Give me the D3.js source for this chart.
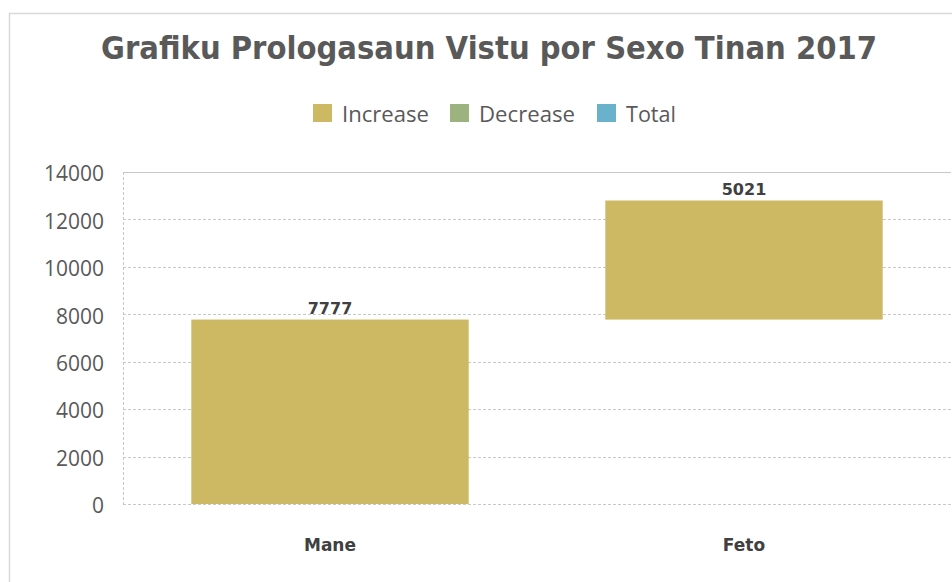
<!DOCTYPE html>
<html lang="en">
<head>
<meta charset="UTF-8">
<title>Grafiku Prologasaun Vistu por Sexo Tinan 2017</title>
<script src="https://cdnjs.cloudflare.com/ajax/libs/d3/7.8.5/d3.min.js"></script>
<style>
  body { margin: 0; background: #fff; }
  svg { display: block; }
</style>
</head>
<body>
<div id="chart"></div>
<script>
// data
const categories = ["Mane", "Feto"];
const values = [7777, 5021];
const legendNames = ["Increase", "Decrease", "Total"];
const legendColors = ["#cdb864", "#9cb27f", "#6ab1cb"];
const yTicks = [0, 2000, 4000, 6000, 8000, 10000, 12000, 14000];

const width = 952, height = 582;
const margin = {top: 172, right: 1, bottom: 78, left: 123};

const svg = d3.select("#chart").append("svg")
  .attr("width", width).attr("height", height);

// outer frame
svg.append("rect")
  .attr("x", 9.5).attr("y", 13.5)
  .attr("width", 1000).attr("height", 1000)
  .attr("fill", "none").attr("stroke", "#d9d9d9").attr("stroke-width", 1.5);

// title
svg.append("text")
  .attr("x", 489).attr("y", 59)
  .attr("text-anchor", "middle")
  .attr("textLength", 776).attr("lengthAdjust", "spacingAndGlyphs")
  .style("font-family", "'DejaVu Sans', sans-serif")
  .style("font-weight", "bold")
  .style("font-size", "32px")
  .style("fill", "#595959")
  .text("Grafiku Prologasaun Vistu por Sexo Tinan 2017");

// legend
const legendX = [313, 450, 597];
const legendW = [87, 96, 50];
const lg = svg.append("g");
legendNames.forEach((n, i) => {
  lg.append("rect")
    .attr("x", legendX[i]).attr("y", 104)
    .attr("width", 19).attr("height", 18)
    .attr("fill", legendColors[i]);
  lg.append("text")
    .attr("x", legendX[i] + 29).attr("y", 122)
    .attr("textLength", legendW[i]).attr("lengthAdjust", "spacingAndGlyphs")
    .style("font-family", "'Open Sans', sans-serif")
    .style("font-size", "21px")
    .style("fill", "#595959")
    .text(n);
});

const x = d3.scaleBand()
  .domain(categories)
  .range([margin.left, width - margin.right])
  .paddingInner(0.33).paddingOuter(0.165);

const y = d3.scaleLinear()
  .domain([0, 14000])
  .range([height - margin.bottom, margin.top]);

// gridlines
svg.append("g")
  .selectAll("line")
  .data(yTicks)
  .join("line")
  .attr("x1", margin.left).attr("x2", width - margin.right)
  .attr("y1", d => Math.round(y(d)) + 0.5).attr("y2", d => Math.round(y(d)) + 0.5)
  .attr("stroke", "#c8c8c8")
  .attr("stroke-dasharray", d => d === 14000 ? null : "3,2");

// left axis line
svg.append("line")
  .attr("x1", margin.left + 0.5).attr("x2", margin.left + 0.5)
  .attr("y1", y(14000)).attr("y2", y(0))
  .attr("stroke", "#c8c8c8").attr("stroke-dasharray", "3,2");

// y tick labels
const yAxis = d3.axisLeft(y).tickValues(yTicks).tickSize(0).tickPadding(19)
  .tickFormat(d3.format("d"));
svg.append("g")
  .attr("transform", `translate(${margin.left},2)`)
  .call(yAxis)
  .call(g => g.select(".domain").remove())
  .call(g => g.selectAll("text")
    .attr("textLength", d => String(d).length * 12)
    .attr("lengthAdjust", "spacingAndGlyphs")
    .style("font-family", "'Open Sans', sans-serif")
    .style("font-size", "21px")
    .style("fill", "#595959"));

// waterfall bars
let cum = 0;
const bars = categories.map((c, i) => {
  const start = cum;
  cum += values[i];
  return {cat: c, start: start, end: cum, value: values[i]};
});

svg.append("g")
  .selectAll("rect")
  .data(bars)
  .join("rect")
  .attr("x", d => x(d.cat))
  .attr("width", x.bandwidth())
  .attr("y", d => y(d.end))
  .attr("height", d => y(d.start) - y(d.end))
  .attr("fill", legendColors[0]);

// value labels
svg.append("g")
  .selectAll("text")
  .data(bars)
  .join("text")
  .attr("x", d => x(d.cat) + x.bandwidth() / 2)
  .attr("y", d => y(d.end) - 6)
  .attr("text-anchor", "middle")
  .style("font-family", "'DejaVu Sans', sans-serif")
  .style("font-weight", "bold")
  .style("font-size", "16px")
  .style("fill", "#404040")
  .text(d => d.value);

// category labels
svg.append("g")
  .selectAll("text")
  .data(categories)
  .join("text")
  .attr("x", d => x(d) + x.bandwidth() / 2)
  .attr("y", 551)
  .attr("text-anchor", "middle")
  .style("font-family", "'DejaVu Sans', sans-serif")
  .style("font-weight", "bold")
  .style("font-size", "17px")
  .style("fill", "#404040")
  .text(d => d);
</script>
</body>
</html>
